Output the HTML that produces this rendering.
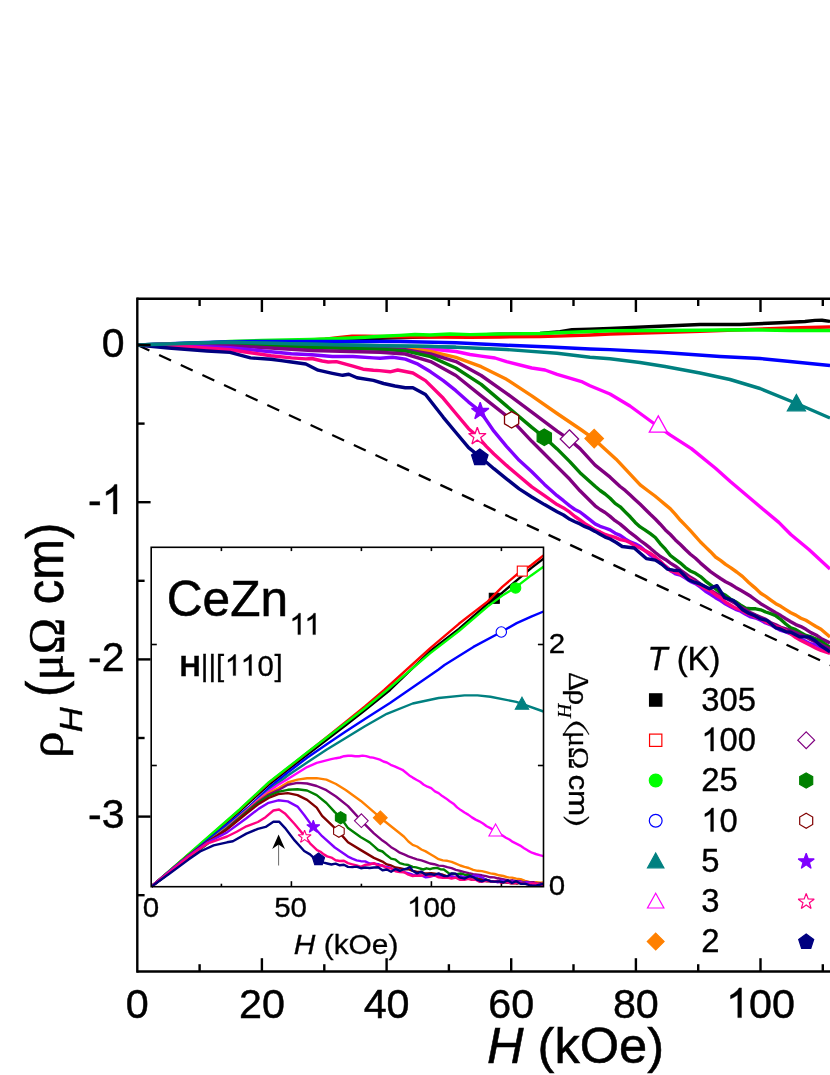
<!DOCTYPE html>
<html><head><meta charset="utf-8"><title>CeZn11 Hall resistivity</title>
<style>html,body{margin:0;padding:0;background:#fff;}body{width:830px;height:1075px;overflow:hidden;}svg{display:block;will-change:transform;}text{font-family:"Liberation Sans",sans-serif;fill:#000;font-kerning:none;stroke:#000;stroke-width:0.011em;}.ser{font-family:"Liberation Serif",serif;}</style></head><body>
<svg width="830" height="1075" viewBox="0 0 830 1075">
<rect x="0" y="0" width="830" height="1075" fill="#ffffff"/>
<g fill="none" stroke-linejoin="round" stroke-linecap="butt">
<line x1="137.5" y1="345" x2="835" y2="667.2" stroke="#000" stroke-width="2.3" stroke-dasharray="13.1 10.73"/>
<polyline points="137.5,345.0 200.0,343.8 262.0,342.0 325.0,340.0 387.0,338.0 430.0,336.8 500.0,334.3 540.0,333.5 560.0,331.8 572.0,329.8 590.0,329.3 610.0,328.4 660.0,326.3 700.0,324.5 740.0,324.5 780.0,322.8 805.0,321.5 815.0,320.4 822.0,320.3 830.0,321.4" stroke="#000000" stroke-width="3.4"/>
<polyline points="137.5,345.0 200.0,343.8 262.0,341.8 300.0,340.5 325.0,339.2 340.0,337.4 352.0,336.2 365.0,336.1 380.0,336.5 400.0,336.8 430.0,337.0 470.0,337.2 500.0,337.0 540.0,336.6 590.0,335.0 610.0,334.0 660.0,332.5 700.0,331.3 748.0,329.5 790.0,328.0 830.0,327.0" stroke="#ff0000" stroke-width="3.4"/>
<polyline points="137.5,345.0 200.0,343.2 230.0,341.5 262.0,340.5 311.0,339.5 352.0,338.0 387.0,336.0 400.0,335.4 415.0,334.5 430.0,335.0 450.0,334.0 470.0,334.6 500.0,334.0 540.0,333.5 590.0,331.5 610.0,330.8 700.0,330.2 748.0,329.7 790.0,330.5 830.0,330.5" stroke="#00ff00" stroke-width="3.4"/>
<polyline points="137.5,345.0 190.0,343.0 230.0,341.6 311.0,341.5 400.0,341.5 455.9,342.7 506.5,345.2 550.0,347.0 590.0,349.0 610.0,349.6 660.0,352.3 720.0,356.5 760.0,358.5 790.0,361.5 830.0,365.5" stroke="#0000ff" stroke-width="3.4"/>
<polyline points="137.5,345.0 190.0,343.2 230.0,342.3 311.9,344.2 380.0,345.7 430.0,346.5 455.9,347.2 506.5,349.5 557.1,353.3 590.0,357.3 610.0,358.8 640.0,362.5 665.0,366.5 700.0,373.0 730.0,379.5 760.0,388.5 796.0,403.3 830.0,418.0" stroke="#008080" stroke-width="3.4"/>
<polygon points="796.4,394.6 805.4,410.8 787.4,410.8" fill="#008080" stroke="#008080" stroke-width="1.30" stroke-linejoin="miter"/>
<polyline points="137.5,345.0 230.0,343.0 311.9,345.2 380.0,346.6 430.6,349.0 455.9,351.5 470.0,354.5 481.2,356.1 495.0,358.0 506.5,361.6 531.8,368.0 545.0,370.0 557.1,374.3 582.4,381.9 590.0,385.7 610.0,394.0 630.0,406.0 655.3,424.5 670.4,435.1 691.4,448.6 715.5,468.2 730.6,481.7 760.7,507.3 778.8,522.4 790.8,534.5 808.9,549.5 830.0,569.1" stroke="#ff00ff" stroke-width="3.4"/>
<polygon points="658.3,415.9 667.3,432.1 649.3,432.1" fill="#ffffff" stroke="#ff00ff" stroke-width="1.30" stroke-linejoin="miter"/>
<polyline points="137.5,345.0 230.0,343.4 311.9,345.6 380.0,347.7 405.3,348.2 430.6,351.5 455.9,357.3 481.2,366.7 506.5,379.3 531.8,395.8 557.1,413.5 580.0,429.0 593.6,438.7 616.1,459.2 640.2,484.8 647.6,490.5 655.0,496.0 660.1,500.2 665.3,504.6 670.4,508.9 675.4,514.4 680.4,520.3 685.4,525.4 690.4,530.7 695.5,536.3 700.5,542.0 705.5,546.9 710.5,551.7 715.5,557.0 720.5,560.4 725.6,564.4 730.6,567.6 736.7,572.0 742.7,576.6 748.7,582.5 754.7,587.6 760.7,593.2 765.7,596.4 770.8,600.1 775.8,603.7 780.8,606.3 785.8,609.6 790.8,612.8 795.8,615.1 800.9,618.2 805.9,620.3 810.9,623.4 816.0,626.5 821.0,629.3 830.0,636.9" stroke="#ff8000" stroke-width="3.4"/>
<polygon points="594.2,429.4 603.4,438.6 594.2,447.8 585.0,438.6" fill="#ff8000" stroke="#ff8000" stroke-width="1.30" stroke-linejoin="miter"/>
<polyline points="137.5,345.0 230.0,343.8 311.9,346.4 380.0,348.2 405.3,349.7 430.6,354.0 455.9,361.6 481.2,375.5 506.5,393.3 531.8,412.2 557.1,431.2 568.5,438.8 580.0,448.6 595.1,465.2 610.1,477.2 620.1,486.5 625.2,490.4 630.2,495.1 635.2,499.7 640.2,504.3 645.2,509.2 650.3,514.3 655.3,519.0 660.3,524.2 665.4,529.9 670.4,534.5 675.4,539.9 680.4,544.5 685.4,549.5 690.4,554.2 695.5,558.3 700.5,563.1 705.5,567.4 710.5,571.6 715.5,575.1 720.5,578.5 725.6,581.7 730.6,584.2 735.6,587.4 740.7,590.3 745.7,593.2 750.7,596.3 755.7,600.0 760.7,603.7 765.7,606.6 770.8,609.8 775.8,612.8 780.8,615.6 785.8,618.8 790.8,621.8 795.8,624.6 800.9,626.6 805.9,629.3 810.9,632.6 816.0,635.0 821.0,638.4 830.0,642.9" stroke="#800080" stroke-width="3.4"/>
<polygon points="569.4,429.8 578.6,439.0 569.4,448.2 560.2,439.0" fill="#ffffff" stroke="#800080" stroke-width="1.30" stroke-linejoin="miter"/>
<polyline points="137.5,345.0 230.0,344.6 311.9,347.5 380.0,349.2 405.3,350.9 430.6,356.6 455.9,368.0 481.2,384.4 506.5,405.9 531.8,427.4 544.5,437.5 557.1,448.9 569.8,461.6 580.0,472.7 595.1,486.3 600.1,490.5 605.1,494.0 610.1,498.3 615.1,503.4 620.2,506.8 625.2,511.9 630.2,516.8 635.2,522.4 640.2,526.9 645.2,530.1 650.3,533.7 655.3,537.5 660.3,543.8 665.4,549.2 670.4,555.5 675.4,559.3 680.4,563.1 685.4,567.6 690.4,571.0 695.5,573.3 700.5,576.6 705.5,581.1 710.5,584.8 715.5,588.7 720.5,592.7 725.6,595.3 730.6,599.2 735.6,601.7 740.7,605.2 745.7,608.3 750.7,608.8 755.7,608.8 760.7,609.8 765.7,612.0 770.8,613.7 775.8,615.8 780.8,619.5 785.8,624.0 790.8,627.8 795.8,629.7 800.9,632.8 805.9,635.4 810.9,636.9 816.0,639.0 821.0,641.4 830.0,647.4" stroke="#008000" stroke-width="3.4"/>
<polygon points="544.3,429.1 551.4,433.2 551.4,441.4 544.3,445.5 537.2,441.4 537.2,433.2" fill="#008000" stroke="#008000" stroke-width="1.30" stroke-linejoin="miter"/>
<polyline points="137.5,345.0 230.0,345.6 311.9,350.5 350.0,351.5 380.0,352.3 405.3,354.0 430.6,361.6 455.9,375.5 481.2,395.8 493.9,405.9 511.6,419.8 531.8,441.3 544.5,454.0 557.1,466.6 569.8,479.3 580.0,490.8 595.1,505.8 600.1,509.5 605.1,512.5 610.1,516.4 615.1,520.7 620.2,524.1 625.2,528.4 630.2,532.7 635.2,536.4 640.2,540.5 645.2,544.2 650.3,548.2 655.3,552.5 660.3,556.5 665.4,559.4 670.4,563.1 675.4,566.2 680.4,570.2 685.4,573.6 690.4,577.3 695.5,580.3 700.5,584.2 705.5,587.1 710.5,590.2 715.5,593.2 720.5,596.0 725.6,598.0 730.6,600.7 735.6,603.5 740.7,607.0 745.7,609.8 750.7,612.7 755.7,615.1 760.7,617.3 765.7,619.4 770.8,622.7 775.8,624.8 780.8,627.3 785.8,628.8 790.8,630.8 795.8,632.5 800.9,634.8 805.9,636.9 810.9,639.8 816.0,642.1 821.0,644.4 830.0,648.9" stroke="#800080" stroke-width="3.4"/>
<polygon points="511.6,411.6 518.7,415.7 518.7,423.9 511.6,428.0 504.5,423.9 504.5,415.7" fill="#ffffff" stroke="#800000" stroke-width="1.30" stroke-linejoin="miter"/>
<polyline points="137.5,345.0 190.0,346.0 230.0,347.7 271.0,351.7 291.4,353.8 311.9,354.8 332.4,356.5 352.9,356.5 373.4,357.9 380.0,358.3 392.7,357.3 405.3,359.1 418.0,364.2 430.6,371.8 443.3,380.6 455.9,390.7 468.6,402.1 480.0,411.0 493.9,431.2 506.5,446.4 519.2,460.3 531.8,471.7 544.5,484.4 557.1,495.7 563.5,500.7 569.8,505.9 574.9,509.5 580.0,512.0 585.0,515.9 590.1,519.9 595.1,523.9 600.1,526.3 605.1,528.0 610.1,529.9 615.1,533.2 620.2,535.4 625.2,539.0 630.2,541.9 635.2,543.8 640.2,546.5 645.2,550.7 650.3,555.1 655.3,558.6 660.3,563.3 665.4,565.9 670.4,570.6 675.4,573.8 680.4,575.0 685.4,578.1 690.4,581.4 695.5,583.7 700.5,587.2 705.5,591.3 710.5,594.4 715.5,597.7 720.5,600.6 725.6,604.0 730.6,606.7 735.6,609.3 740.7,611.2 745.7,614.3 750.7,616.9 755.7,618.0 760.7,620.3 765.7,623.0 770.8,624.8 775.8,627.8 780.8,630.4 785.8,631.9 790.8,633.9 795.8,635.8 800.9,639.2 805.9,641.4 810.9,643.9 816.0,644.7 821.0,647.4 830.0,651.9" stroke="#8000ff" stroke-width="3.4"/>
<polygon points="480.2,402.2 482.4,408.4 488.9,408.5 483.7,412.5 485.6,418.8 480.2,415.0 474.8,418.8 476.7,412.5 471.5,408.5 478.0,408.4" fill="#8000ff" stroke="#8000ff" stroke-width="1.30" stroke-linejoin="miter" stroke-miterlimit="1.6"/>
<polyline points="137.5,345.0 190.0,347.0 230.0,349.7 250.5,352.8 271.0,355.8 291.4,357.9 305.8,358.9 311.9,358.5 322.2,361.0 328.3,362.0 336.5,361.6 352.9,366.1 363.1,369.2 373.4,370.2 379.5,370.6 390.1,371.8 397.7,370.0 412.9,373.0 425.5,380.6 443.3,398.3 455.9,413.5 468.6,428.7 477.4,436.3 486.3,446.4 493.9,454.0 506.5,465.4 519.2,476.3 531.8,486.9 544.5,495.7 557.1,504.6 563.5,507.9 569.8,512.2 574.9,516.5 580.0,520.0 585.0,523.6 590.1,526.8 595.1,529.9 600.1,531.9 605.1,534.4 610.1,536.0 615.1,537.4 620.2,539.6 625.2,540.5 630.2,542.7 635.2,545.9 640.2,548.0 645.2,550.9 650.3,553.4 655.3,557.0 660.3,561.3 665.4,566.4 670.4,570.6 675.4,572.1 680.4,574.3 685.4,576.6 690.4,579.1 695.5,582.5 700.5,585.7 705.5,588.7 710.5,591.0 715.5,594.7 720.5,597.7 725.6,602.2 730.6,605.2 735.6,608.1 740.7,609.6 745.7,612.8 750.7,614.7 755.7,617.2 760.7,618.8 765.7,621.9 770.8,624.1 775.8,626.3 780.8,628.2 785.8,630.8 790.8,633.9 795.8,637.6 800.9,640.4 805.9,642.9 810.9,645.5 816.0,648.2 821.0,650.4 830.0,653.4" stroke="#ff0080" stroke-width="3.4"/>
<polygon points="477.3,427.3 479.5,433.5 486.0,433.6 480.8,437.6 482.7,443.9 477.3,440.1 471.9,443.9 473.8,437.6 468.6,433.6 475.1,433.5" fill="#ffffff" stroke="#ff0080" stroke-width="1.30" stroke-linejoin="miter" stroke-miterlimit="1.6"/>
<polyline points="137.5,345.0 168.5,348.0 207.0,351.0 230.0,352.4 250.5,357.9 271.0,359.3 281.2,360.6 291.4,362.0 305.8,364.0 318.1,370.2 332.4,373.3 342.7,375.3 348.8,374.3 357.0,377.8 373.4,380.4 383.6,383.5 395.0,386.0 405.3,387.7 412.9,387.7 425.5,394.5 443.3,417.3 455.9,432.5 468.6,447.7 481.2,457.8 493.9,468.7 506.5,478.8 519.2,488.9 531.8,497.0 544.5,504.6 557.1,511.7 563.5,515.0 569.8,519.3 574.9,521.7 580.0,523.9 585.0,526.7 590.1,528.7 595.1,531.4 600.1,534.3 605.1,537.1 610.1,539.0 616.2,542.5 622.2,546.5 628.2,547.3 634.2,548.0 640.2,553.2 646.3,558.6 655.3,560.1 661.3,563.7 667.3,569.1 673.3,570.2 679.4,570.6 688.4,579.6 694.5,582.2 700.5,584.2 709.5,588.7 717.0,585.7 724.6,597.7 733.6,600.7 742.7,609.8 748.7,613.2 754.7,615.8 760.7,618.9 766.7,620.3 775.8,627.8 780.8,629.2 785.8,631.6 790.8,632.3 799.9,636.9 808.9,636.9 815.0,640.5 821.0,645.9 830.0,651.9" stroke="#000080" stroke-width="3.4"/>
<polygon points="479.8,449.0 488.0,454.9 484.9,464.6 474.7,464.6 471.6,454.9" fill="#000080" stroke="#000080" stroke-width="1.30" stroke-linejoin="miter"/>
<polyline points="137.5,345.0 190.0,343.2 230.0,342.3 311.9,344.2 380.0,345.7 430.0,346.5 455.9,347.2" stroke="#008080" stroke-width="3.4"/>
</g>
<rect x="151.2" y="547.3" width="392.3" height="339.4" fill="#ffffff" stroke="none"/>
<clipPath id="ic"><rect x="151.2" y="547.3" width="392.3" height="340.4"/></clipPath>
<g fill="none" stroke-linejoin="round">
<polyline points="151.5,886.5 195.6,849.0 239.6,811.3 268.6,784.8 287.8,769.8 307.1,754.8 326.4,740.0 345.7,725.2 364.9,710.3 390.0,690.0 430.0,651.3 458.9,628.9 487.8,603.6 502.3,592.7 516.7,580.4 531.2,568.1 543.5,558.7" stroke="#000000" stroke-width="2.4" clip-path="url(#ic)"/>
<rect x="489.30" y="593.30" width="10.00" height="10.00" fill="#000000" stroke="#000000" stroke-width="1.10" stroke-linejoin="miter"/>
<polyline points="151.5,886.5 195.6,848.4 239.6,810.0 268.6,783.0 287.8,768.0 307.1,752.8 326.4,737.5 345.7,722.0 364.9,706.5 384.2,690.0 430.0,648.4 458.9,623.8 487.8,601.4 502.3,586.9 516.7,574.6 531.2,565.2 543.5,555.4" stroke="#ff0000" stroke-width="2.4" clip-path="url(#ic)"/>
<rect x="517.30" y="566.10" width="10.00" height="10.00" fill="#ffffff" stroke="#ff0000" stroke-width="1.10" stroke-linejoin="miter"/>
<polyline points="151.5,886.5 195.6,848.0 239.6,809.5 268.6,782.5 287.8,767.5 307.1,752.5 326.4,737.8 345.7,723.0 364.9,708.3 387.1,690.0 430.0,653.4 458.9,631.0 487.8,606.4 502.3,595.6 515.3,587.6 531.2,575.4 543.5,566.7" stroke="#00ff00" stroke-width="2.4" clip-path="url(#ic)"/>
<circle cx="515.60" cy="587.90" r="5.20" fill="#00ff00" stroke="#00ff00" stroke-width="1.10" stroke-linejoin="miter"/>
<polyline points="151.5,886.5 195.6,850.0 227.1,824.5 249.3,806.6 268.6,788.0 287.8,772.5 307.1,757.8 326.4,744.5 345.7,731.4 364.9,718.9 390.0,703.1 438.6,669.5 444.5,665.0 473.4,646.9 500.8,632.2 516.7,623.1 531.2,616.6 543.5,611.5" stroke="#0000ff" stroke-width="2.4" clip-path="url(#ic)"/>
<circle cx="501.30" cy="632.00" r="5.20" fill="#ffffff" stroke="#0000ff" stroke-width="1.10" stroke-linejoin="miter"/>
<polyline points="151.5,886.5 195.6,851.0 227.1,826.5 249.3,808.0 268.6,790.5 287.8,775.5 307.1,762.5 326.4,749.8 345.7,738.0 364.9,726.2 386.8,713.8 412.7,703.5 438.6,698.0 464.5,695.4 477.5,695.4 490.4,696.7 516.3,701.9 543.5,711.5" stroke="#008080" stroke-width="2.4" clip-path="url(#ic)"/>
<polygon points="522.0,697.2 528.7,709.2 515.3,709.2" fill="#008080" stroke="#008080" stroke-width="1.10" stroke-linejoin="miter"/>
<polyline points="151.5,886.5 227.1,827.4 246.4,810.6 257.9,800.2 268.6,791.5 278.2,784.8 287.8,779.0 307.1,767.1 316.7,762.9 326.4,760.4 331.2,759.2 336.0,758.2 340.0,757.5 344.0,756.2 348.0,755.7 351.6,755.8 355.2,756.3 358.9,756.2 362.5,755.6 366.1,756.1 369.6,757.2 373.0,757.6 376.5,758.6 379.9,759.6 383.4,761.5 386.8,762.5 390.7,764.8 394.6,766.4 398.5,768.2 402.4,769.8 405.8,772.5 409.3,775.4 412.7,777.6 416.4,779.8 420.1,781.8 423.8,784.7 427.5,786.7 431.2,788.2 434.9,791.3 438.6,793.1 442.3,796.1 446.0,798.4 449.7,801.2 453.4,803.7 457.1,807.4 460.8,810.1 464.5,812.5 468.2,814.6 471.9,817.4 475.6,819.6 479.3,821.3 483.0,823.5 486.7,826.2 490.4,828.1 495.6,831.2 499.1,833.7 502.5,835.5 505.9,837.7 509.4,839.5 512.8,841.9 516.3,843.6 520.2,845.6 524.1,848.2 528.0,850.6 531.9,852.7 535.8,854.0 539.6,855.1 543.5,856.1" stroke="#ff00ff" stroke-width="2.4" clip-path="url(#ic)"/>
<polygon points="495.6,824.0 502.3,836.0 488.9,836.0" fill="#ffffff" stroke="#ff00ff" stroke-width="1.10" stroke-linejoin="miter"/>
<polyline points="151.5,886.5 227.1,827.8 246.4,811.2 257.9,801.2 268.6,793.0 278.2,788.3 287.8,782.5 297.5,779.6 307.1,778.3 316.7,778.1 326.4,779.6 336.0,784.0 345.7,790.0 360.9,800.9 380.3,817.7 399.8,833.3 404.1,836.8 408.4,841.5 412.7,844.9 417.0,846.5 421.4,849.5 425.7,851.4 430.0,854.0 434.3,856.5 438.6,859.2 442.9,860.4 447.3,860.8 451.6,861.8 455.9,863.6 460.2,865.5 464.5,866.9 468.8,868.0 473.2,869.9 477.5,870.8 481.8,871.1 486.1,872.1 490.4,873.4 494.7,874.0 499.1,875.3 503.4,876.0 507.7,877.4 512.0,877.6 516.3,878.6 520.6,879.2 525.0,880.9 529.3,882.0 532.8,882.7 536.4,882.3 540.0,882.8 543.5,882.5" stroke="#ff8000" stroke-width="2.4" clip-path="url(#ic)"/>
<polygon points="380.3,810.9 387.2,817.7 380.3,824.6 373.4,817.7" fill="#ff8000" stroke="#ff8000" stroke-width="1.10" stroke-linejoin="miter"/>
<polyline points="151.5,886.5 227.1,828.2 246.4,811.7 257.9,802.0 268.6,794.5 278.2,790.2 287.8,784.8 297.5,782.9 307.1,783.5 316.7,786.0 326.4,790.2 336.0,796.5 348.0,806.1 361.4,820.8 373.9,833.3 382.5,840.6 386.8,843.6 391.1,847.2 395.5,849.7 399.8,852.7 404.1,854.4 408.4,856.3 412.7,857.9 417.0,859.3 421.4,860.4 425.7,861.8 430.0,863.5 434.3,864.2 438.6,865.6 442.9,865.9 447.3,867.2 451.6,868.2 455.9,869.8 460.2,870.9 464.5,872.1 468.8,873.2 473.2,874.2 477.5,874.7 481.8,875.3 486.1,876.2 490.4,877.3 494.1,877.4 497.8,878.3 501.5,879.0 505.2,879.7 508.9,880.6 512.6,880.3 516.3,881.2 519.7,881.2 523.1,882.2 526.5,882.0 529.9,882.4 533.3,882.2 536.7,883.6 540.1,883.4 543.5,883.8" stroke="#800080" stroke-width="2.4" clip-path="url(#ic)"/>
<polygon points="361.4,813.9 368.2,820.8 361.4,827.6 354.5,820.8" fill="#ffffff" stroke="#800080" stroke-width="1.10" stroke-linejoin="miter"/>
<polyline points="151.5,886.5 227.1,828.7 246.4,812.5 257.9,803.0 268.6,796.0 278.2,791.8 287.8,789.8 297.5,789.3 307.1,790.5 316.7,795.1 326.4,803.0 334.8,812.1 340.7,817.7 348.0,828.1 360.9,837.2 365.2,839.8 369.6,842.4 373.9,846.2 378.2,850.0 382.5,851.5 386.8,855.3 391.1,858.6 395.5,859.7 399.8,863.1 404.1,864.4 408.4,865.0 412.7,866.9 416.2,867.4 419.6,868.3 423.1,869.5 426.5,868.3 430.0,869.2 433.4,868.2 436.9,867.9 440.3,869.2 443.8,869.5 449.0,873.4 452.9,873.7 456.8,874.2 460.6,873.5 464.5,874.7 468.2,875.0 471.9,875.9 475.6,877.7 479.3,878.9 483.0,878.5 486.7,880.1 490.4,881.2 494.1,881.9 497.8,881.0 501.5,882.5 505.2,882.3 508.9,881.6 512.6,882.9 516.3,882.5 519.7,882.5 523.1,882.3 526.5,883.5 529.9,884.2 533.3,883.7 536.7,884.7 540.1,885.2 543.5,885.1" stroke="#008000" stroke-width="2.4" clip-path="url(#ic)"/>
<polygon points="340.7,811.6 346.0,814.7 346.0,820.8 340.7,823.8 335.4,820.8 335.4,814.7" fill="#008000" stroke="#008000" stroke-width="1.10" stroke-linejoin="miter"/>
<polyline points="151.5,886.5 188.5,855.5 207.8,841.5 227.1,829.4 246.4,813.5 257.9,804.5 268.6,798.0 278.2,794.1 287.8,793.1 297.5,795.1 307.1,799.9 316.7,807.6 322.1,815.9 338.6,831.6 348.0,842.3 360.9,850.1 373.9,857.9 382.5,861.6 386.8,864.4 391.1,865.5 395.5,867.5 399.8,868.2 404.1,869.2 408.4,869.2 412.7,870.8 416.4,871.7 420.1,872.0 423.8,873.1 427.5,873.5 431.2,873.1 434.9,873.6 438.6,874.7 442.3,874.5 446.0,875.9 449.7,876.3 453.4,877.0 457.1,877.5 460.8,878.8 464.5,878.6 468.2,878.6 471.9,879.7 475.6,879.7 479.3,879.3 483.0,880.3 486.7,881.3 490.4,881.2 493.7,881.4 497.0,881.6 500.4,881.3 503.7,881.9 507.0,882.5 510.3,883.2 513.6,883.0 517.0,883.5 520.3,882.9 523.6,883.3 526.9,882.8 530.2,884.2 533.5,884.1 536.9,884.6 540.2,883.8 543.5,884.6" stroke="#800000" stroke-width="2.4" clip-path="url(#ic)"/>
<polygon points="338.9,825.1 344.2,828.2 344.2,834.2 338.9,837.3 333.6,834.2 333.6,828.2" fill="#ffffff" stroke="#800000" stroke-width="1.10" stroke-linejoin="miter"/>
<polyline points="151.5,886.5 169.3,871.5 188.5,856.0 207.8,842.3 227.1,832.4 246.4,818.3 258.9,808.6 268.6,802.8 278.2,800.3 287.8,801.4 297.5,806.6 304.2,815.0 310.0,823.0 313.3,826.5 322.1,836.2 334.8,847.5 348.0,856.6 352.3,858.6 356.6,860.3 360.9,861.2 365.2,861.4 369.6,863.5 373.9,863.8 378.2,864.1 382.5,866.1 386.8,866.9 390.5,867.7 394.2,870.1 397.9,869.7 401.6,871.5 405.3,872.4 409.0,873.5 412.7,874.7 417.0,874.9 421.4,875.5 425.7,877.3 430.0,876.7 434.3,875.6 438.6,876.0 442.3,876.9 446.0,876.8 449.7,875.8 453.4,876.7 457.1,877.6 460.8,876.1 464.5,877.3 468.8,877.1 473.2,875.8 477.5,876.0 481.8,877.3 486.1,879.8 490.4,881.2 494.1,881.1 497.8,882.3 501.5,880.7 505.2,881.1 508.9,882.6 512.6,881.4 516.3,882.0 519.7,881.6 523.1,882.9 526.5,882.1 529.9,882.9 533.3,883.8 536.7,884.1 540.1,884.4 543.5,885.0" stroke="#8000ff" stroke-width="2.4" clip-path="url(#ic)"/>
<polygon points="313.3,820.1 314.9,824.7 319.8,824.8 315.9,827.7 317.3,832.4 313.3,829.6 309.3,832.4 310.7,827.7 306.8,824.8 311.7,824.7" fill="#8000ff" stroke="#8000ff" stroke-width="1.10" stroke-linejoin="miter" stroke-miterlimit="1.6"/>
<polyline points="151.5,886.5 169.3,872.2 188.5,856.7 207.8,843.3 227.1,836.5 236.7,831.7 246.4,826.3 257.9,822.0 265.6,817.2 273.4,810.5 279.1,809.5 284.9,813.4 294.6,824.0 304.2,835.5 310.0,843.3 317.1,850.1 320.5,851.8 323.8,854.4 327.2,856.4 331.4,857.6 335.6,860.3 339.8,861.0 343.9,860.7 348.0,863.1 352.3,864.3 356.6,865.4 360.9,866.9 365.2,864.7 369.6,864.5 373.9,863.1 378.2,865.6 382.5,865.2 386.8,868.2 391.1,868.3 395.5,871.3 399.8,872.1 404.1,872.3 408.4,874.7 412.7,876.0 417.0,875.5 421.4,875.7 425.7,874.7 430.0,876.4 434.3,875.2 438.6,877.3 442.9,877.9 447.3,877.5 451.6,878.6 455.9,877.7 460.2,879.9 464.5,879.9 468.2,878.9 471.9,879.7 475.6,879.7 479.3,881.7 483.0,881.5 486.7,880.5 490.4,881.2 494.1,881.2 497.8,881.0 501.5,883.1 505.2,881.9 508.9,882.6 512.6,883.2 516.3,882.5 519.7,882.8 523.1,883.0 526.5,884.1 529.9,883.6 533.3,883.4 536.7,883.8 540.1,884.8 543.5,885.0" stroke="#ff0080" stroke-width="2.4" clip-path="url(#ic)"/>
<polygon points="304.6,830.1 306.2,834.7 311.1,834.8 307.2,837.7 308.6,842.4 304.6,839.6 300.6,842.4 302.0,837.7 298.1,834.8 303.0,834.7" fill="#ffffff" stroke="#ff0080" stroke-width="1.10" stroke-linejoin="miter" stroke-miterlimit="1.6"/>
<polyline points="151.5,886.5 169.3,873.7 188.5,859.6 200.1,851.5 213.6,845.4 227.1,842.3 232.9,841.3 246.4,833.6 257.9,828.8 265.6,826.9 273.4,821.7 279.1,821.7 284.9,827.8 294.6,840.4 304.2,851.0 310.0,854.4 313.6,857.7 317.1,858.9 320.5,861.4 323.8,862.7 327.2,863.5 331.4,864.5 335.6,863.6 339.8,865.3 343.9,864.7 348.0,866.9 352.3,867.1 356.6,866.6 360.9,868.2 365.2,867.5 369.6,868.0 373.9,867.5 378.2,867.3 382.5,870.2 386.8,869.5 391.1,871.7 395.5,869.0 399.8,870.8 403.2,869.5 406.7,868.7 410.1,866.9 412.7,870.8 417.0,873.4 421.4,871.7 425.7,874.7 430.0,874.0 434.3,874.9 438.6,873.4 443.8,876.0 447.7,876.1 451.6,873.4 455.5,873.6 459.4,877.3 464.5,878.6 469.7,876.0 473.6,877.3 477.5,879.9 481.8,881.3 486.1,879.6 490.4,881.2 494.7,881.6 499.1,881.4 503.4,882.5 507.7,880.2 512.0,883.0 516.3,881.2 520.6,883.7 525.0,883.6 529.3,885.1 532.8,885.6 536.4,885.4 540.0,884.7 543.5,883.8" stroke="#000080" stroke-width="2.4" clip-path="url(#ic)"/>
<polygon points="318.5,853.0 324.6,857.4 322.3,864.6 314.7,864.6 312.4,857.4" fill="#000080" stroke="#000080" stroke-width="1.10" stroke-linejoin="miter"/>
</g>
<g stroke="#000" stroke-width="1.6" fill="none">
<rect x="151.2" y="547.3" width="392.3" height="339.4"/>
<line x1="221.4" y1="886.7" x2="221.4" y2="883.7"/>
<line x1="221.4" y1="547.3" x2="221.4" y2="551.1"/>
<line x1="291.4" y1="886.7" x2="291.4" y2="881.2"/>
<line x1="291.4" y1="547.3" x2="291.4" y2="551.1"/>
<line x1="361.4" y1="886.7" x2="361.4" y2="883.7"/>
<line x1="361.4" y1="547.3" x2="361.4" y2="551.1"/>
<line x1="431.4" y1="886.7" x2="431.4" y2="881.2"/>
<line x1="431.4" y1="547.3" x2="431.4" y2="551.1"/>
<line x1="501.4" y1="886.7" x2="501.4" y2="883.7"/>
<line x1="501.4" y1="547.3" x2="501.4" y2="551.1"/>
<line x1="151.2" y1="765.5" x2="156.8" y2="765.5"/>
<line x1="543.5" y1="765.5" x2="537.9" y2="765.5"/>
<line x1="151.2" y1="644.5" x2="156.8" y2="644.5"/>
<line x1="543.5" y1="644.5" x2="537.9" y2="644.5"/>
</g>
<line x1="278.6" y1="842" x2="278.6" y2="865.5" stroke="#444" stroke-width="0.8"/>
<polygon points="278.6,834.4 285,849 278.6,844.6 272.2,849" fill="#000"/>
<text x="166.8" y="615.6" font-size="49.6">CeZn</text>
<g transform="translate(0,634.6)"><path d="M300.50 0.00 L297.88 0.00 L297.88 -16.69 Q296.94 -15.79 295.40 -14.89 Q293.87 -13.98 292.64 -13.53 L292.64 -16.06 Q294.84 -17.10 296.49 -18.57 Q298.13 -20.04 298.81 -21.42 L300.50 -21.42 Z" fill="#000" stroke="#000" stroke-width="0.33"/><path d="M315.50 0.00 L312.88 0.00 L312.88 -16.69 Q311.94 -15.79 310.40 -14.89 Q308.87 -13.98 307.64 -13.53 L307.64 -16.06 Q309.84 -17.10 311.49 -18.57 Q313.13 -20.04 313.81 -21.42 L315.50 -21.42 Z" fill="#000" stroke="#000" stroke-width="0.33"/></g>
<text x="179.6" y="675.6" font-size="29.3"><tspan font-weight="bold">H</tspan>||[</text>
<g transform="translate(0,675.6)"><path d="M235.72 0.00 L233.14 0.00 L233.14 -16.41 Q232.21 -15.52 230.70 -14.64 Q229.19 -13.75 227.99 -13.31 L227.99 -15.79 Q230.15 -16.81 231.77 -18.26 Q233.38 -19.70 234.06 -21.06 L235.72 -21.06 Z" fill="#000" stroke="#000" stroke-width="0.32"/><path d="M251.52 0.00 L248.94 0.00 L248.94 -16.41 Q248.01 -15.52 246.50 -14.64 Q244.99 -13.75 243.79 -13.31 L243.79 -15.79 Q245.95 -16.81 247.57 -18.26 Q249.18 -19.70 249.86 -21.06 L251.52 -21.06 Z" fill="#000" stroke="#000" stroke-width="0.32"/></g>
<text x="257.4" y="675.6" font-size="29.3">0<tspan dx="0.8">]</tspan></text>
<g transform="translate(151.00,916.60) scale(1.070,1)"><text x="-7.67" y="0" font-size="27.60">0</text></g>
<g transform="translate(290.60,916.60) scale(1.070,1)"><text x="-15.35" y="0" font-size="27.60">50</text></g>
<g transform="translate(431.60,916.60) scale(1.070,1)"><path d="M-12.74 0.00 L-15.16 0.00 L-15.16 -15.46 Q-16.04 -14.62 -17.46 -13.79 Q-18.88 -12.95 -20.01 -12.53 L-20.01 -14.88 Q-17.98 -15.83 -16.46 -17.20 Q-14.93 -18.56 -14.30 -19.84 L-12.74 -19.84 Z" fill="#000" stroke="#000" stroke-width="0.30"/><text x="-7.67" y="0" font-size="27.60">00</text></g>
<text transform="translate(293.8,954) scale(1.06,1)" font-size="28.2"><tspan font-style="italic">H</tspan> (kOe)</text>
<text transform="translate(548.8,652.8) scale(1.07,1)" font-size="27.6">2</text>
<text transform="translate(548.8,894.8) scale(1.07,1)" font-size="27.6">0</text>
<g transform="translate(569,672) rotate(90)">
<text transform="translate(0.00,0.00) scale(1.050,1)" font-size="28.5" class="ser">Δ</text>
<text transform="translate(17.60,0.00) scale(1.100,1)" font-size="28.5" class="ser">ρ</text>
<text transform="translate(31.20,11.00) scale(1.100,1)" font-size="18.0" class="ser" font-style="italic">H</text>
<path d="M61.7,-19.9 Q37.5,-7.35 61.7,5.2 L62.9,5.2 Q41.7,-7.35 62.9,-19.9 Z" fill="#000" stroke="#000" stroke-width="0.3"/>
<text transform="translate(58.90,0.00) scale(1.050,1)" font-size="28.5" class="ser">μΩ</text>
<text transform="translate(102.40,0.00) scale(1.100,1)" font-size="28.5">cm</text>
<path d="M145.8,-19.9 Q160.2,-7.35 145.8,5.2 L144.6,5.2 Q156,-7.35 144.6,-19.9 Z" fill="#000" stroke="#000" stroke-width="0.3"/>
</g>
<g stroke="#000" stroke-width="2.4" fill="none" stroke-linecap="butt">
<line x1="137.3" y1="297.5" x2="137.3" y2="972.7"/>
<line x1="137.3" y1="298.7" x2="830" y2="298.7"/>
<line x1="137.3" y1="971.5" x2="830" y2="971.5"/>
<line x1="199.6" y1="298.7" x2="199.6" y2="306.0"/>
<line x1="199.6" y1="971.5" x2="199.6" y2="964.2"/>
<line x1="261.9" y1="298.7" x2="261.9" y2="312.0"/>
<line x1="261.9" y1="971.5" x2="261.9" y2="958.2"/>
<line x1="324.3" y1="298.7" x2="324.3" y2="306.0"/>
<line x1="324.3" y1="971.5" x2="324.3" y2="964.2"/>
<line x1="386.6" y1="298.7" x2="386.6" y2="312.0"/>
<line x1="386.6" y1="971.5" x2="386.6" y2="958.2"/>
<line x1="448.9" y1="298.7" x2="448.9" y2="306.0"/>
<line x1="448.9" y1="971.5" x2="448.9" y2="964.2"/>
<line x1="511.2" y1="298.7" x2="511.2" y2="312.0"/>
<line x1="511.2" y1="971.5" x2="511.2" y2="958.2"/>
<line x1="573.5" y1="298.7" x2="573.5" y2="306.0"/>
<line x1="573.5" y1="971.5" x2="573.5" y2="964.2"/>
<line x1="635.9" y1="298.7" x2="635.9" y2="312.0"/>
<line x1="635.9" y1="971.5" x2="635.9" y2="958.2"/>
<line x1="698.2" y1="298.7" x2="698.2" y2="306.0"/>
<line x1="698.2" y1="971.5" x2="698.2" y2="964.2"/>
<line x1="760.5" y1="298.7" x2="760.5" y2="312.0"/>
<line x1="760.5" y1="971.5" x2="760.5" y2="958.2"/>
<line x1="822.8" y1="298.7" x2="822.8" y2="306.0"/>
<line x1="822.8" y1="971.5" x2="822.8" y2="964.2"/>
<line x1="137.3" y1="345.0" x2="150.6" y2="345.0"/>
<line x1="137.3" y1="423.6" x2="144.6" y2="423.6"/>
<line x1="137.3" y1="502.2" x2="150.6" y2="502.2"/>
<line x1="137.3" y1="580.8" x2="144.6" y2="580.8"/>
<line x1="137.3" y1="659.4" x2="150.6" y2="659.4"/>
<line x1="137.3" y1="738.0" x2="144.6" y2="738.0"/>
<line x1="137.3" y1="816.6" x2="150.6" y2="816.6"/>
<line x1="137.3" y1="895.2" x2="144.6" y2="895.2"/>
</g>
<g transform="translate(124.50,356.70) scale(1.000,1)"><text x="-22.80" y="0" font-size="41.00">0</text></g>
<g transform="translate(124.50,513.90) scale(1.000,1)"><text x="-36.45" y="0" font-size="41.00">-</text><path d="M-7.52 0.00 L-11.12 0.00 L-11.12 -22.96 Q-12.43 -21.72 -14.54 -20.48 Q-16.65 -19.24 -18.33 -18.62 L-18.33 -22.10 Q-15.31 -23.52 -13.05 -25.54 Q-10.78 -27.57 -9.84 -29.47 L-7.52 -29.47 Z" fill="#000" stroke="#000" stroke-width="0.45"/></g>
<g transform="translate(124.50,671.10) scale(1.000,1)"><text x="-36.45" y="0" font-size="41.00">-2</text></g>
<g transform="translate(124.50,828.30) scale(1.000,1)"><text x="-36.45" y="0" font-size="41.00">-3</text></g>
<g transform="translate(137.30,1017.60) scale(1.000,1)"><text x="-11.48" y="0" font-size="41.30">0</text></g>
<g transform="translate(261.94,1017.60) scale(1.000,1)"><text x="-22.96" y="0" font-size="41.30">20</text></g>
<g transform="translate(386.58,1017.60) scale(1.000,1)"><text x="-22.96" y="0" font-size="41.30">40</text></g>
<g transform="translate(511.22,1017.60) scale(1.000,1)"><text x="-22.96" y="0" font-size="41.30">60</text></g>
<g transform="translate(635.86,1017.60) scale(1.000,1)"><text x="-22.96" y="0" font-size="41.30">80</text></g>
<g transform="translate(760.50,1017.60) scale(1.000,1)"><path d="M-19.06 0.00 L-22.69 0.00 L-22.69 -23.13 Q-24.00 -21.88 -26.13 -20.63 Q-28.25 -19.38 -29.95 -18.75 L-29.95 -22.26 Q-26.90 -23.70 -24.62 -25.73 Q-22.34 -27.77 -21.40 -29.68 L-19.06 -29.68 Z" fill="#000" stroke="#000" stroke-width="0.45"/><text x="-11.48" y="0" font-size="41.30">00</text></g>
<text x="487" y="1063.2" font-size="50.6"><tspan font-style="italic">H</tspan> (kOe)</text>
<text transform="translate(63,758.3) rotate(-90) scale(1.1,1)" x="0" y="0" font-size="49" class="ser">ρ</text>
<text transform="translate(81.8,732.2) rotate(-90) scale(1.1,1)" x="0" y="0" font-size="31.5" font-style="italic">H</text>
<text transform="translate(63,696.9) rotate(-90) scale(0.96,1)" x="0" y="0" font-size="51">(<tspan class="ser">μΩ</tspan> cm)</text>
<text x="647.5" y="669.6" font-size="32.8"><tspan font-style="italic">T</tspan> (K)</text>
<rect x="649.55" y="693.85" width="12.30" height="12.30" fill="#000000" stroke="#000000" stroke-width="1.20" stroke-linejoin="miter"/>
<g transform="translate(701.30,710.80) scale(1.000,1)"><text x="0.00" y="0" font-size="32.80">305</text></g>
<rect x="649.55" y="734.10" width="12.30" height="12.30" fill="#ffffff" stroke="#ff0000" stroke-width="1.20" stroke-linejoin="miter"/>
<g transform="translate(701.30,751.05) scale(1.000,1)"><path d="M12.22 0.00 L9.34 0.00 L9.34 -18.37 Q8.30 -17.38 6.61 -16.38 Q4.92 -15.39 3.57 -14.89 L3.57 -17.68 Q5.99 -18.82 7.80 -20.44 Q9.61 -22.05 10.36 -23.57 L12.22 -23.57 Z" fill="#000" stroke="#000" stroke-width="0.36"/><text x="18.24" y="0" font-size="32.80">00</text></g>
<circle cx="655.70" cy="780.50" r="6.40" fill="#00ff00" stroke="#00ff00" stroke-width="1.20" stroke-linejoin="miter"/>
<g transform="translate(701.30,791.30) scale(1.000,1)"><text x="0.00" y="0" font-size="32.80">25</text></g>
<circle cx="655.70" cy="820.75" r="6.40" fill="#ffffff" stroke="#0000ff" stroke-width="1.20" stroke-linejoin="miter"/>
<g transform="translate(701.30,831.55) scale(1.000,1)"><path d="M12.22 0.00 L9.34 0.00 L9.34 -18.37 Q8.30 -17.38 6.61 -16.38 Q4.92 -15.39 3.57 -14.89 L3.57 -17.68 Q5.99 -18.82 7.80 -20.44 Q9.61 -22.05 10.36 -23.57 L12.22 -23.57 Z" fill="#000" stroke="#000" stroke-width="0.36"/><text x="18.24" y="0" font-size="32.80">0</text></g>
<polygon points="655.7,853.0 663.9,867.8 647.5,867.8" fill="#008080" stroke="#008080" stroke-width="1.20" stroke-linejoin="miter"/>
<g transform="translate(701.30,871.80) scale(1.000,1)"><text x="0.00" y="0" font-size="32.80">5</text></g>
<polygon points="655.7,893.3 663.9,908.0 647.5,908.0" fill="#ffffff" stroke="#ff00ff" stroke-width="1.20" stroke-linejoin="miter"/>
<g transform="translate(701.30,912.05) scale(1.000,1)"><text x="0.00" y="0" font-size="32.80">3</text></g>
<polygon points="655.7,933.1 664.1,941.5 655.7,949.9 647.3,941.5" fill="#ff8000" stroke="#ff8000" stroke-width="1.20" stroke-linejoin="miter"/>
<g transform="translate(701.30,952.30) scale(1.000,1)"><text x="0.00" y="0" font-size="32.80">2</text></g>
<polygon points="806.2,731.8 814.6,740.2 806.2,748.7 797.8,740.2" fill="#ffffff" stroke="#800080" stroke-width="1.20" stroke-linejoin="miter"/>
<polygon points="806.2,773.0 812.7,776.7 812.7,784.3 806.2,788.0 799.7,784.3 799.7,776.7" fill="#008000" stroke="#008000" stroke-width="1.20" stroke-linejoin="miter"/>
<polygon points="806.2,813.2 812.7,817.0 812.7,824.5 806.2,828.3 799.7,824.5 799.7,817.0" fill="#ffffff" stroke="#800000" stroke-width="1.20" stroke-linejoin="miter"/>
<polygon points="806.2,853.1 808.2,858.8 814.2,858.9 809.4,862.5 811.1,868.3 806.2,864.8 801.3,868.3 803.0,862.5 798.2,858.9 804.2,858.8" fill="#8000ff" stroke="#8000ff" stroke-width="1.20" stroke-linejoin="miter" stroke-miterlimit="1.6"/>
<polygon points="806.2,893.4 808.2,899.0 814.2,899.2 809.4,902.8 811.1,908.5 806.2,905.1 801.3,908.5 803.0,902.8 798.2,899.2 804.2,899.0" fill="#ffffff" stroke="#ff0080" stroke-width="1.20" stroke-linejoin="miter" stroke-miterlimit="1.6"/>
<polygon points="806.2,934.1 813.7,939.5 810.8,948.3 801.6,948.3 798.7,939.5" fill="#000080" stroke="#000080" stroke-width="1.20" stroke-linejoin="miter"/>
</svg></body></html>
